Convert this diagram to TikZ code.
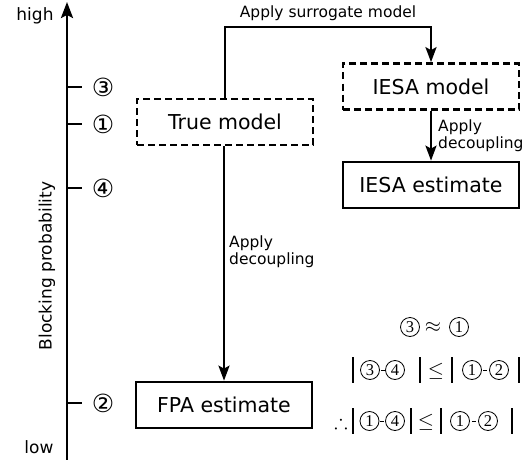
\documentclass[tikz,border=0pt]{standalone}
\usepackage{fontspec}
\usepackage{amssymb}
\setmainfont{DejaVu Sans}
\newfontfamily\serifdigits{Liberation Serif}
\usetikzlibrary{arrows.meta}

\tikzset{
  box/.style={draw,line width=2.7pt,minimum width=176pt,minimum height=46pt,inner sep=0pt,font=\fontsize{20.5}{22}\selectfont},
  dbox/.style={box,dash pattern=on 7pt off 4pt},
  arr/.style={line width=2.5pt,-{Stealth[length=15pt,width=11pt,inset=3pt]}},
  lbl/.style={font=\fontsize{15.5}{17}\selectfont,inner sep=0pt},
  axlbl/.style={font=\fontsize{17}{19}\selectfont,inner sep=0pt},
  tick/.style={line width=1.5pt},
  ticklbl/.style={font=\fontsize{25}{25}\selectfont,inner sep=0pt},
  cnode/.style={circle,draw,line width=0.8pt,inner sep=0pt,minimum size=19pt,font=\serifdigits\fontsize{16.5}{16.5}\selectfont},
  rel/.style={inner sep=0pt,font=\fontsize{20}{20}\selectfont},
  fbar/.style={line width=1.6pt},
  fdash/.style={line width=1pt}
}

\begin{document}
\begin{tikzpicture}[x=1pt,y=-1pt]
\useasboundingbox (0,0) rectangle (527,460);

% probability axis
\coordinate (axbot) at (67,461);
\coordinate (axtop) at (67,2);
\draw[line width=2.5pt,-{Stealth[length=16pt,width=12pt,inset=3pt]}] (axbot) -- (axtop);
\node[axlbl] (high) at (35,16) {high};
\node[axlbl] (low) at (39,447) {low};
\node[axlbl,rotate=90] (ylab) at (47,266) {Blocking probability};

% ticks with circled markers
\foreach \n/\yy in {3/87,1/124,4/188,2/403}{
  \coordinate (t\n) at (67,\yy);
  \draw[tick] (t\n) -- ++(15,0);
  \node[ticklbl] (m\n) at (103,\yy) {\ifcase\n\or ①\or ②\or ③\or ④\fi};
}

% models and estimates
\node[dbox] (true) at (225,122) {True model};
\node[dbox] (iesam) at (431,86.5) {IESA model};
\node[box] (iesae) at (431,185) {IESA estimate};
\node[box] (fpa) at (224,405) {FPA estimate};

% connectors
\coordinate (topleft) at (225,27);
\draw[arr] (true.north) -- (topleft) -| (iesam.north);
\node[lbl] (surr) at (328,13) {Apply surrogate model};

\draw[arr] (iesam.south) -- (iesae.north);
\node[lbl,anchor=west,align=left] (dec1) at (438,136) {Apply\\decoupling};

\draw[arr] (true.south -| fpa.north) -- (fpa.north);
\node[lbl,anchor=west,align=left] (dec2) at (229,251.5) {Apply\\decoupling};

% first relation: 3 ~ 1
\node[cnode] (ra1) at (410,327) {3};
\node[rel] (ra2) at (433,327) {$\approx$};
\node[cnode] (ra3) at (459,327) {1};

% second relation: |3-4| <= |1-2|
\foreach \n/\xx [count=\i] in {3/370,4/395,1/472,2/499}
  \node[cnode] (rb\i) at (\xx,370) {\n};
\foreach \xx in {353,420,452,519}
  \draw[fbar] (\xx,357) -- (\xx,383);
\draw[fdash] (rb1.east) ++(1,0) -- ++(4,0);
\draw[fdash] (rb3.east) ++(1.5,0) -- ++(4,0);
\node[rel] (rble) at (436,371) {$\leq$};

% third relation: therefore |1-4| <= |1-2|
\node[rel] (rcth) at (341,422) {$\therefore$};
\foreach \n/\xx [count=\i] in {1/369.5,4/395,1/460,2/488}
  \node[cnode] (rc\i) at (\xx,421) {\n};
\foreach \xx in {353,411,441,512}
  \draw[fbar] (\xx,408) -- (\xx,434);
\draw[fdash] (rc1.east) ++(1,0) -- ++(4,0);
\draw[fdash] (rc3.east) ++(2,0) -- ++(4,0);
\node[rel] (rcle) at (426,422) {$\leq$};
\end{tikzpicture}
\end{document}
